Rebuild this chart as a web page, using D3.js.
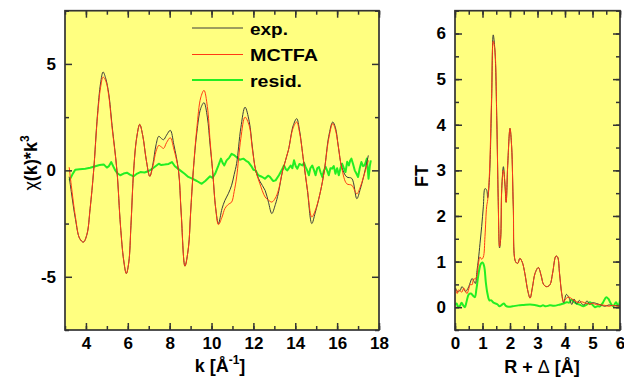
<!DOCTYPE html>
<html>
<head>
<meta charset="utf-8">
<script src="https://cdn.jsdelivr.net/npm/d3@7/dist/d3.min.js"></script>
<style>
  html, body { margin: 0; padding: 0; background: #ffffff; }
  svg { display: block; }
  text { font-family: "Liberation Sans", Arial, sans-serif; font-weight: bold; fill: #000; }
</style>
</head>
<body>
<svg id="chart" width="624" height="381"></svg>
<script>
// ---- k-space: chi(k)*k^3 ----
const kGrid = [3.2,3.3,3.5,3.7,3.88,4.05,4.2,4.37,4.55,4.7,4.82,4.95,5.09,5.25,5.48,5.65,5.8,5.93,6.05,6.15,6.28,6.42,6.57,6.72,6.88,7.05,7.2,7.35,7.48,7.6,7.71,7.85,8.03,8.2,8.42,8.55,8.73,8.9,9.0,9.13,9.3,9.48,9.64,9.8,9.93,10.05,10.2,10.33,10.5,10.64,10.8,10.96,11.08,11.2,11.4,11.6,11.8,11.95,12.11,12.3,12.56,12.72,12.88,13.05,13.19,13.4,13.67,13.9,14.07,14.2,14.39,14.58,14.79,14.95,15.18,15.39,15.6,15.79,15.92,16.06,16.22,16.46,16.7,16.94,17.1,17.26,17.49];
const chiExp = [-0.3,-1.0,-2.3,-3.2,-3.37,-3.0,-1.8,0,2.6,4.1,4.62,4.3,3.6,2.1,0,-2.6,-4.2,-4.85,-4.3,-2.6,0,1.5,2.16,1.6,0.5,-0.28,0.3,1.2,1.6,1.5,1.44,1.65,1.88,1.2,0,-2.0,-4.5,-3.6,-2.0,0,1.8,2.9,3.18,2.5,1.2,0,-1.8,-2.5,-1.8,-1.41,-1.1,-0.7,-0.2,0.33,2.0,2.97,2.3,1.1,0,-0.5,-0.94,-1.5,-2.03,-1.6,-1.08,0,0.94,2.1,2.43,1.9,0.47,-0.94,-2.5,-2.0,-1.1,0,1.6,2.27,2.0,1.1,0.16,-0.31,-0.38,-1.33,-0.9,-0.31,0.7];
const chiFit = [0.15,-0.7,-2.2,-3.2,-3.37,-3.0,-1.8,0,2.5,3.9,4.38,4.2,3.5,2.0,0,-2.6,-4.2,-4.85,-4.3,-2.6,0,1.5,2.16,1.6,0.5,-0.28,0.2,0.9,1.17,1.1,1.03,1.3,1.53,1.0,0,-2.0,-4.5,-3.6,-2.0,0,2.0,3.4,3.76,3.0,1.4,0,-1.8,-2.55,-2.2,-1.79,-1.6,-1.49,-1.0,-0.31,1.5,2.5,2.1,1.0,0,-0.6,-1.25,-1.4,-1.49,-1.3,-0.95,0,0.94,2.0,2.27,1.8,0.5,-0.9,-2.19,-1.9,-1.1,0,1.5,2.2,1.9,1.1,0.1,-0.63,-0.7,-1.1,-0.8,-0.31,0.47];
const kResid = [3.21,3.35,3.49,3.7,3.97,4.2,4.45,4.65,4.85,5.0,5.1,5.21,5.3,5.4,5.52,5.64,5.8,5.96,6.1,6.28,6.45,6.6,6.8,7.0,7.2,7.48,7.6,7.76,7.95,8.11,8.25,8.5,8.7,8.89,9.1,9.3,9.53,9.7,9.93,10.05,10.17,10.33,10.45,10.53,10.61,10.72,10.85,10.96,11.1,11.2,11.35,11.52,11.65,11.76,11.9,12.0,12.1,12.23,12.4,12.55,12.7,12.79,12.9,12.95,13.06,13.22,13.35,13.46,13.55,13.62,13.78,13.86,13.94,14.02,14.1,14.2,14.34,14.42,14.49,14.57,14.65,14.72,14.81,14.9,14.97,15.05,15.13,15.21,15.29,15.37,15.45,15.52,15.6,15.68,15.76,15.84,15.92,16.0,16.08,16.16,16.24,16.32,16.4,16.48,16.56,16.62,16.68,16.76,16.84,16.92,17.0,17.08,17.16,17.24,17.31,17.37,17.42,17.46,17.5,17.56,17.61];
const chiResid = [-0.47,-0.2,0.03,0.05,0.08,0.12,0.19,0.25,0.28,0.13,0.2,0.39,0.2,0.0,-0.15,-0.23,-0.15,-0.11,-0.2,-0.28,-0.15,-0.08,-0.1,-0.03,0.1,0.31,0.25,0.27,0.3,0.39,0.19,0.0,-0.15,-0.31,-0.4,-0.5,-0.63,-0.5,-0.28,-0.35,-0.16,0.23,0.55,0.35,0.23,0.47,0.6,0.78,0.7,0.62,0.5,0.55,0.45,0.39,0.2,0.03,0.0,-0.23,-0.3,-0.39,-0.25,-0.31,-0.45,-0.5,-0.47,-0.23,0.0,0.23,0.05,0.0,0.23,0.1,0.47,0.2,0.08,0.3,0.23,0.35,0.16,0.0,-0.23,0.1,0.23,0.0,-0.23,0.1,0.16,-0.1,-0.31,0.0,0.16,0.0,-0.23,0.1,0.08,0.2,-0.16,0.1,-0.23,0.1,0.31,0.1,-0.08,0.4,0.23,0.45,0.55,0.3,0.0,-0.15,-0.31,0.1,0.39,0.2,0.23,0.4,0.55,0.1,-0.39,0.2,0.47];

// ---- R-space: Fourier transform magnitude ----
const rGrid = [0.02,0.08,0.13,0.2,0.25,0.32,0.38,0.44,0.5,0.56,0.62,0.68,0.74,0.8,0.85,0.91,0.97,1.03,1.09,1.15,1.19,1.25,1.33,1.39,1.45,1.52,1.57,1.62,1.66,1.7,1.76,1.82,1.86,1.92,2.0,2.06,2.12,2.2,2.28,2.36,2.45,2.54,2.65,2.73,2.82,2.91,3.03,3.13,3.22,3.33,3.45,3.55,3.67,3.73,3.8,3.88,3.95,4.05,4.15,4.25,4.33,4.42,4.52,4.6,4.7,4.8,4.9,5.0,5.15,5.3,5.45,5.6,5.75,5.9,6.0];
const ftExp = [0.42,0.35,0.34,0.38,0.45,0.4,0.34,0.38,0.45,0.55,0.63,0.58,0.52,0.8,1.04,1.4,1.77,2.2,2.6,2.57,2.4,2.8,4.47,5.97,5.64,4.1,2.4,1.3,1.5,2.6,3.08,2.64,2.3,3.16,3.92,3.52,2.2,1.0,0.96,1.07,0.98,0.74,0.35,0.2,0.45,0.74,0.87,0.7,0.5,0.45,0.49,0.75,1.12,1.1,0.75,0.3,0.1,0.28,0.2,0.06,0.18,0.07,0.15,0.08,0.05,0.14,0.06,0.1,0.08,0.05,0.02,0.05,0.03,0.04,0.02];
const ftFit = [0.4,0.3,0.38,0.35,0.33,0.42,0.35,0.3,0.4,0.5,0.49,0.62,0.62,0.7,0.95,1.1,1.05,1.1,1.55,2.2,2.36,2.9,4.6,5.83,5.64,4.1,2.4,1.33,1.5,2.6,3.0,2.7,2.3,3.16,3.92,3.52,2.2,1.0,0.96,1.07,0.98,0.74,0.35,0.2,0.45,0.74,0.87,0.7,0.5,0.45,0.49,0.75,1.12,1.1,0.75,0.3,0.12,0.2,0.22,0.18,0.15,0.12,0.1,0.12,0.1,0.08,0.07,0.08,0.06,0.05,0.04,0.02,0.04,0.02,0.03];
const rResid = [0.0,0.06,0.12,0.18,0.24,0.3,0.36,0.42,0.5,0.58,0.66,0.72,0.78,0.86,0.94,1.0,1.06,1.12,1.18,1.25,1.32,1.4,1.48,1.55,1.62,1.7,1.78,1.85,1.95,2.1,2.3,2.5,2.73,2.9,3.09,3.2,3.3,3.45,3.6,3.82,3.95,4.06,4.15,4.24,4.32,4.42,4.55,4.67,4.8,4.91,5.0,5.09,5.18,5.27,5.38,5.5,5.58,5.64,5.7,5.76,5.82,5.86,5.94,6.0];
const ftResid = [0.05,0.08,0.0,0.03,0.1,0.04,0.0,0.12,0.28,0.3,0.25,0.22,0.4,0.75,0.95,0.98,0.9,0.55,0.3,0.15,0.15,0.1,0.08,0.06,0.02,0.05,0.08,0.03,0.01,0.02,0.04,0.05,0.06,0.05,0.02,0.04,0.02,0.04,0.03,0.06,0.08,0.11,0.1,0.17,0.12,0.08,0.05,0.02,0.06,0.11,0.05,0.0,0.02,0.02,0.1,0.22,0.18,0.11,0.05,0.02,0.08,0.11,0.02,0.15];

// ---- tick values ----
const kTicks = [4,6,8,10,12,14,16,18];
const kMinor = d3.range(3, 18.01, 1);
const chiTicks = [-5,0,5];
const chiMinor = [-7.5,-2.5,2.5,7.5];
const rTicks = [0,1,2,3,4,5,6];
const rMinor = d3.range(0, 6.01, 0.5);
const ftTicks = [0,1,2,3,4,5,6];
const ftMinor = d3.range(-0.5, 6.51, 0.5);

const legendItems = ["exp.", "MCTFA", "resid."];

const COL_EXP = "#3c3c3c", COL_FIT = "#ff3a14", COL_RES = "#22ee22";
const BG = "#ffff80", FRAME = "#333333";

const svg = d3.select("#chart");
const plainNum = d => String(d);   // hyphen-minus, as on the printed axes

function panel(opt) {
  const { left, right, top, bottom, xDom, yDom } = opt;
  const x = d3.scaleLinear().domain(xDom).range([left, right]);
  const y = d3.scaleLinear().domain(yDom).range([bottom, top]);
  const g = svg.append("g");
  g.append("rect").attr("x", left).attr("y", top)
    .attr("width", right - left).attr("height", bottom - top).attr("fill", BG);

  const clipId = "clip" + Math.round(left);
  svg.append("clipPath").attr("id", clipId).append("rect")
    .attr("x", left).attr("y", top).attr("width", right - left).attr("height", bottom - top);
  const plot = g.append("g").attr("clip-path", `url(#${clipId})`);

  const axisStyle = sel => {
    sel.select(".domain").remove();
    sel.selectAll("line").attr("stroke", FRAME).attr("stroke-width", 1.5);
    sel.selectAll("text").attr("font-size", 17).attr("font-family", "Liberation Sans, Arial, sans-serif")
      .attr("font-weight", "bold").attr("fill", "#000");
  };
  // bottom
  g.append("g").attr("transform", `translate(0,${bottom})`)
    .call(d3.axisBottom(x).tickValues(opt.xMinor).tickSize(-4).tickFormat("")).call(axisStyle);
  g.append("g").attr("transform", `translate(0,${bottom})`)
    .call(d3.axisBottom(x).tickValues(opt.xTicks).tickSize(-7).tickPadding(7).tickFormat(plainNum)).call(axisStyle);
  // top
  g.append("g").attr("transform", `translate(0,${top})`)
    .call(d3.axisTop(x).tickValues(opt.xMinor).tickSize(-4).tickFormat("")).call(axisStyle);
  g.append("g").attr("transform", `translate(0,${top})`)
    .call(d3.axisTop(x).tickValues(opt.xTicks).tickSize(-7).tickFormat("")).call(axisStyle);
  // left
  g.append("g").attr("transform", `translate(${left},0)`)
    .call(d3.axisLeft(y).tickValues(opt.yMinor).tickSize(-4).tickFormat("")).call(axisStyle);
  g.append("g").attr("transform", `translate(${left},0)`)
    .call(d3.axisLeft(y).tickValues(opt.yTicks).tickSize(-7).tickPadding(9).tickFormat(plainNum)).call(axisStyle);
  // right
  g.append("g").attr("transform", `translate(${right},0)`)
    .call(d3.axisRight(y).tickValues(opt.yMinor).tickSize(-4).tickFormat("")).call(axisStyle);
  g.append("g").attr("transform", `translate(${right},0)`)
    .call(d3.axisRight(y).tickValues(opt.yTicks).tickSize(-7).tickFormat("")).call(axisStyle);

  const smooth = d3.line().x(d => x(d[0])).y(d => y(d[1])).curve(d3.curveCatmullRom.alpha(0.5));
  const sharp = d3.line().x(d => x(d[0])).y(d => y(d[1]));
  opt.series.forEach(s => {
    plot.append("path").datum(d3.zip(s.xs, s.ys))
      .attr("fill", "none").attr("stroke", s.color).attr("stroke-width", s.width)
      .attr("stroke-linejoin", "round")
      .attr("d", s.smooth ? smooth : sharp);
  });

  g.append("rect").attr("x", left).attr("y", top)
    .attr("width", right - left).attr("height", bottom - top)
    .attr("fill", "none").attr("stroke", FRAME).attr("stroke-width", 1.7);
  return { x, y, g };
}

// k-space panel
panel({
  left: 65, right: 379, top: 10.7, bottom: 330,
  xDom: [3, 18], yDom: [-7.5, 7.5],
  xTicks: kTicks, xMinor: kMinor, yTicks: chiTicks, yMinor: chiMinor,
  series: [
    { xs: kResid, ys: chiResid, color: COL_RES, width: 2, smooth: false },
    { xs: kGrid, ys: chiExp, color: COL_EXP, width: 1, smooth: true },
    { xs: kGrid, ys: chiFit, color: COL_FIT, width: 1, smooth: true }
  ]
});

// R-space panel
panel({
  left: 455, right: 620, top: 10.7, bottom: 330,
  xDom: [0, 6], yDom: [-0.5, 6.5],
  xTicks: rTicks, xMinor: rMinor, yTicks: ftTicks, yMinor: ftMinor,
  series: [
    { xs: rResid, ys: ftResid, color: COL_RES, width: 2, smooth: true },
    { xs: rGrid, ys: ftExp, color: COL_EXP, width: 1, smooth: true },
    { xs: rGrid, ys: ftFit, color: COL_FIT, width: 1, smooth: true }
  ]
});

// legend
const legendColors = [COL_EXP, COL_FIT, COL_RES];
const legendWidths = [1, 1, 2];
const legendRows = [28, 54.5, 80];
const legendTextLen = [38, 68, 52];
const lg = svg.append("g");
legendItems.forEach((name, i) => {
  lg.append("line").attr("x1", 192).attr("x2", 243)
    .attr("y1", legendRows[i]).attr("y2", legendRows[i])
    .attr("stroke", legendColors[i]).attr("stroke-width", legendWidths[i]);
  lg.append("text").attr("x", 250).attr("y", legendRows[i] + 6.5)
    .attr("font-size", 17)
    .attr("textLength", legendTextLen[i]).attr("lengthAdjust", "spacingAndGlyphs")
    .text(name);
});

// axis titles
const yt = svg.append("text").attr("transform", "translate(37,163) rotate(-90)")
  .attr("text-anchor", "middle").attr("font-size", 18);
yt.append("tspan").attr("font-weight", "normal").text("χ");
yt.append("tspan").text("(k)*k");
yt.append("tspan").attr("font-size", 12).attr("dy", -8).text("3");

const xt = svg.append("text").attr("x", 220).attr("y", 372)
  .attr("text-anchor", "middle").attr("font-size", 18);
xt.append("tspan").text("k [Å");
xt.append("tspan").attr("font-size", 12).attr("dy", -8).text("-1");
xt.append("tspan").attr("dy", 8).text("]");

svg.append("text").attr("transform", "translate(428,176) rotate(-90)")
  .attr("text-anchor", "middle").attr("font-size", 18).text("FT");

const rt = svg.append("text").attr("x", 542).attr("y", 373)
  .attr("text-anchor", "middle").attr("font-size", 18);
rt.append("tspan").text("R + ");
rt.append("tspan").attr("font-weight", "normal").text("Δ");
rt.append("tspan").text(" [Å]");
</script>
</body>
</html>
